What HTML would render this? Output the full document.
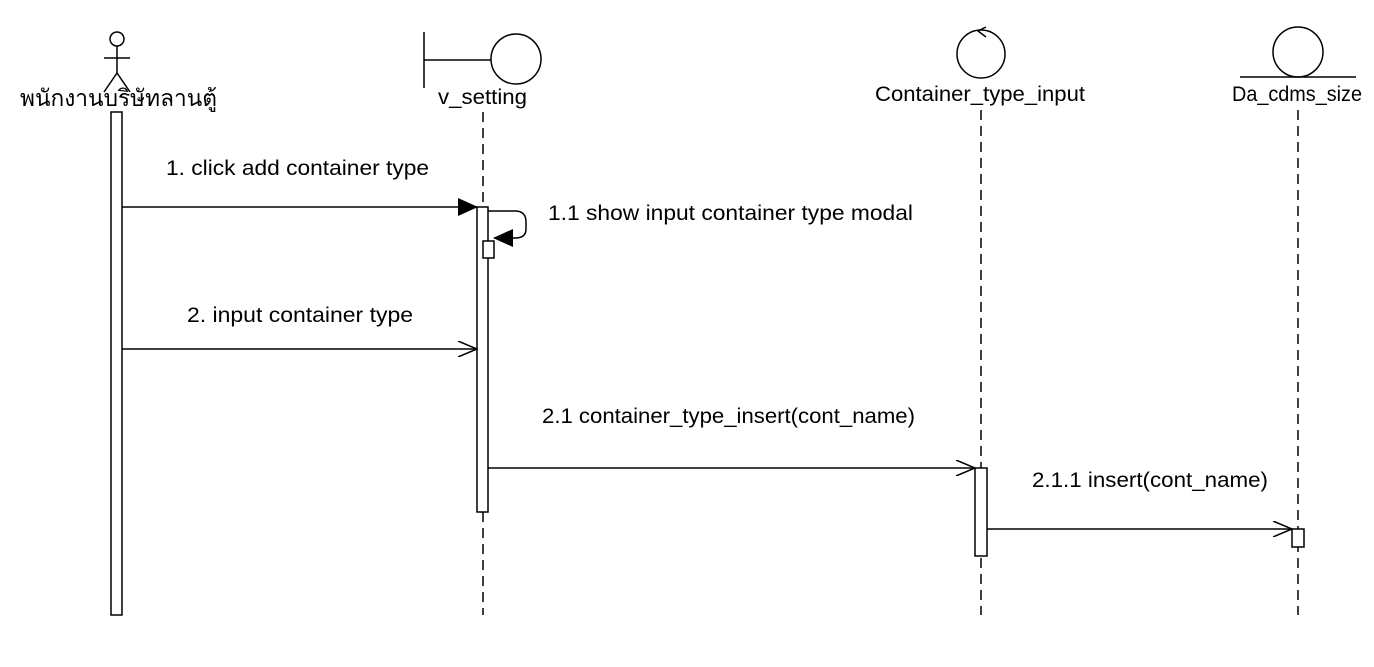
<!DOCTYPE html>
<html><head><meta charset="utf-8"><style>html,body{margin:0;padding:0;background:#fff}</style></head>
<body>
<svg width="1374" height="662" viewBox="0 0 1374 662" xmlns="http://www.w3.org/2000/svg" font-family="Liberation Sans, Noto Sans CJK SC, sans-serif" font-size="21" fill="none" stroke="#000" stroke-width="1.5">
<defs>
<marker id="f" markerWidth="20" markerHeight="18" refX="19" refY="9" orient="auto" markerUnits="userSpaceOnUse"><path d="M0,0 L20,9 L0,18 Z" fill="#000" stroke="none"/></marker>
<marker id="o" markerWidth="20" markerHeight="16" refX="19" refY="8" orient="auto" markerUnits="userSpaceOnUse"><path d="M0,0 L19,8 L0,16" fill="none" stroke="#000" stroke-width="1.5"/></marker>
</defs>
<!-- actor -->
<circle cx="117" cy="39" r="7"/>
<line x1="117" y1="46" x2="117" y2="73"/>
<line x1="104" y1="58" x2="130" y2="58"/>
<line x1="117" y1="73" x2="104" y2="92"/>
<line x1="117" y1="73" x2="130" y2="92"/>
<text x="20" y="106" textLength="197" lengthAdjust="spacingAndGlyphs" font-size="23" fill="#000" stroke="none">พนักงานบริษัทลานตู้</text>
<rect x="111" y="112" width="11" height="503" fill="#fff"/>
<!-- boundary -->
<line x1="424" y1="32" x2="424" y2="88"/>
<line x1="424" y1="60" x2="491" y2="60"/>
<circle cx="516" cy="59" r="25"/>
<text x="438" y="104" textLength="89" lengthAdjust="spacingAndGlyphs" fill="#000" stroke="none">v_setting</text>
<line x1="483" y1="112" x2="483" y2="615" stroke-dasharray="10,6"/>
<!-- control -->
<circle cx="981" cy="54" r="24"/>
<path d="M986,27 L978,31 L986,37"/>
<text x="875" y="101" textLength="210" lengthAdjust="spacingAndGlyphs" fill="#000" stroke="none">Container_type_input</text>
<line x1="981" y1="110" x2="981" y2="615" stroke-dasharray="10,6"/>
<!-- entity -->
<circle cx="1298" cy="52" r="25"/>
<line x1="1240" y1="77" x2="1356" y2="77"/>
<text x="1232" y="101" textLength="130" lengthAdjust="spacingAndGlyphs" fill="#000" stroke="none">Da_cdms_size</text>
<line x1="1298" y1="110" x2="1298" y2="615" stroke-dasharray="10,6"/>
<!-- activations -->
<rect x="477" y="207" width="11" height="305" fill="#fff"/>
<rect x="483" y="241" width="11" height="17" fill="#fff"/>
<rect x="975" y="468" width="12" height="88" fill="#fff"/>
<rect x="1292" y="529" width="12" height="18" fill="#fff"/>
<!-- messages -->
<line x1="122" y1="207" x2="477" y2="207" marker-end="url(#f)"/>
<text x="166" y="175" textLength="263" lengthAdjust="spacingAndGlyphs" fill="#000" stroke="none">1. click add container type</text>
<path d="M488,211 L515,211 Q526,211 526,222 L526,229 Q526,238 515,238 L494,238" marker-end="url(#f)"/>
<text x="548" y="220" textLength="365" lengthAdjust="spacingAndGlyphs" fill="#000" stroke="none">1.1 show input container type modal</text>
<line x1="122" y1="349" x2="477" y2="349" marker-end="url(#o)"/>
<text x="187" y="322" textLength="226" lengthAdjust="spacingAndGlyphs" fill="#000" stroke="none">2. input container type</text>
<line x1="488" y1="468" x2="975" y2="468" marker-end="url(#o)"/>
<text x="542" y="423" textLength="373" lengthAdjust="spacingAndGlyphs" fill="#000" stroke="none">2.1 container_type_insert(cont_name)</text>
<line x1="987" y1="529" x2="1292" y2="529" marker-end="url(#o)"/>
<text x="1032" y="487" textLength="236" lengthAdjust="spacingAndGlyphs" fill="#000" stroke="none">2.1.1 insert(cont_name)</text>
</svg>
</body></html>
